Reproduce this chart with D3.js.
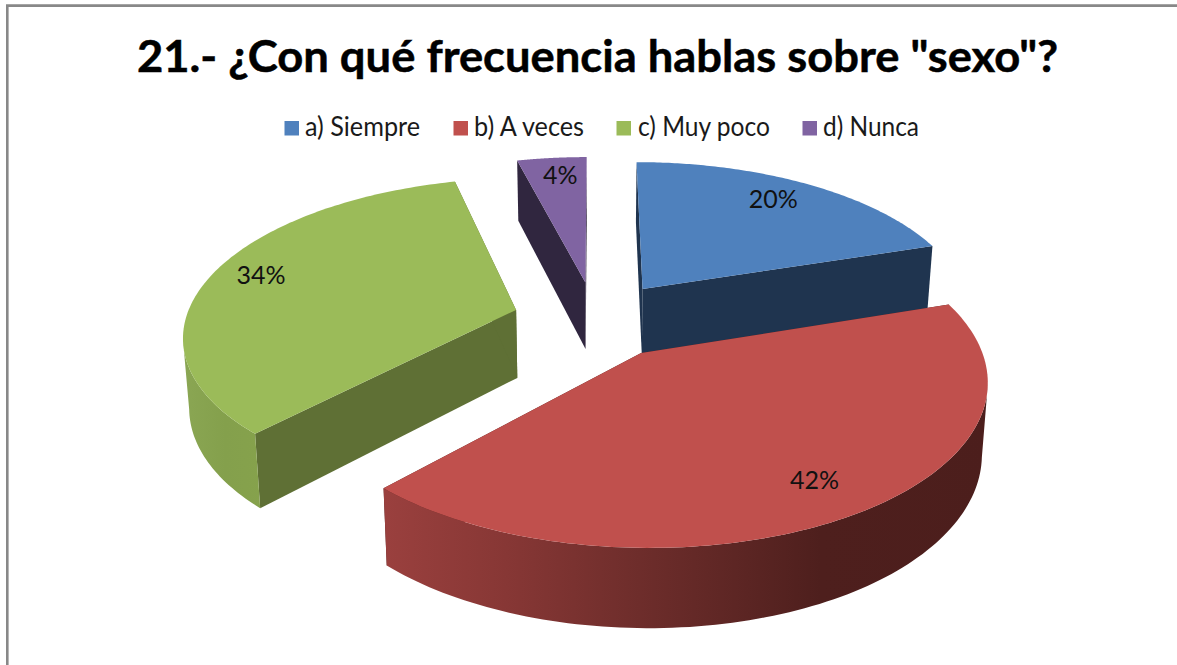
<!DOCTYPE html>
<html><head><meta charset="utf-8">
<style>html,body{margin:0;padding:0;background:#fff;overflow:hidden}svg{display:block}</style>
<script src="https://cdn.jsdelivr.net/npm/d3@7"></script></head>
<body><svg id="c" width="1177" height="665"></svg>
<script>
const titleText = '21.- ¿Con qué frecuencia hablas sobre "sexo"?';
const categories = ['a) Siempre','b) A veces','c) Muy poco','d) Nunca'];
const values = [20,42,34,4];
const topColors = ['#4f81bd','#c0504d','#9bbb59','#8064a2'];
const radialColors = ['#1f344f','#4e1f1d','#5f7035','#30263f'];
const legendSwatchX = [284.5,453.5,616.5,802.5];
const legendTextX = [305,474,638,823];
const legendTextW = [115,110,132,96];
const labelDx = [-6,0,-5,3];
const labelDy = [-1,0,-4,-2];

const W=1177,H=665;
const svg=d3.select('#c');
const defs=svg.append('defs');
const font='Lato, Carlito, sans-serif';

svg.append('rect').attr('width',W).attr('height',H).attr('fill','#fff');
svg.append('path').attr('d','M7.3,665V5.6H1177').attr('fill','none').attr('stroke','#888').attr('stroke-width',2.6);

svg.append('text').text(titleText).attr('x',137).attr('y',71.5)
  .attr('font-family',font).attr('font-weight',700).attr('font-size',44).attr('fill','#000')
  .attr('stroke','#000').attr('stroke-width',0.5)
  .attr('textLength',921).attr('lengthAdjust','spacingAndGlyphs');

categories.forEach((c,i)=>{
  svg.append('rect').attr('x',legendSwatchX[i]).attr('y',121).attr('width',14.5).attr('height',14.5).attr('fill',topColors[i]);
  svg.append('text').text(c).attr('x',legendTextX[i]).attr('y',136)
    .attr('font-family',font).attr('font-size',26).attr('fill','#1a1a1a')
    .attr('textLength',legendTextW[i]).attr('lengthAdjust','spacingAndGlyphs');
});

// Perspective projection of the pie plane
const K=0.15, EXPLODE=0.25, DEPTH=68.5, SHRINK=0.985;
const sx=d3.scaleLinear().domain([0,1]).range([595.4,925.9]);
const sy=d3.scaleLinear().domain([0,1]).range([319.4,473.8]);
const proj=(U,V)=>{const w=1-K*V;return [sx(U/w),sy(V/w)];};
const projB=(U,V)=>{const w=1-K*V;return [sx(SHRINK*U/w),sy(SHRINK*V/w)+DEPTH/w];};

const pie=d3.pie().sort(null).value(d=>d);
const arcs=pie(values).map((a,i)=>{
  const m=(a.startAngle+a.endAngle)/2;
  const ox=EXPLODE*Math.sin(m), oy=-EXPLODE*Math.cos(m);
  const on=(ang,r)=>[ox+r*Math.sin(ang),oy-r*Math.cos(ang)];
  return {...a,i,m,ox,oy,on};
});
const line=d3.line();
const sweep=(a)=>d3.range(0,121).map(t=>a.startAngle+(a.endAngle-a.startAngle)*t/120);

const gradRed=defs.append('linearGradient').attr('id','gr1').attr('gradientUnits','userSpaceOnUse')
  .attr('x1',385).attr('x2',990).attr('y1',0).attr('y2',0);
[[0,'#9a403e'],[0.2,'#873735'],[0.4,'#702e2c'],[0.6,'#5b2523'],[0.72,'#4e1f1d'],[1,'#4c1e1c']]
  .forEach(s=>gradRed.append('stop').attr('offset',s[0]).attr('stop-color',s[1]));
const gradGreen=defs.append('linearGradient').attr('id','gr2').attr('gradientUnits','userSpaceOnUse')
  .attr('x1',185).attr('x2',265).attr('y1',0).attr('y2',0);
[[0,'#8aa653'],[0.5,'#84a04c'],[1,'#86a24c']]
  .forEach(s=>gradGreen.append('stop').attr('offset',s[0]).attr('stop-color',s[1]));
const outerFill={1:'url(#gr1)',2:'url(#gr2)'};

const order=[3,0,2,1];
order.forEach(i=>{
  const a=arcs[i], g=svg.append('g');
  [a.startAngle,a.endAngle].forEach(ang=>{
    const e=a.on(ang,1);
    const poly=[proj(a.ox,a.oy),proj(e[0],e[1]),projB(e[0],e[1]),projB(a.ox,a.oy)];
    g.append('path').attr('d',line(poly)+'Z').attr('fill',radialColors[i]);
  });
  const angs=sweep(a);
  const pts=angs.map(t=>a.on(t,1));
  const vis=pts.filter((p,k)=>{
    const q=pts[Math.min(k+1,pts.length-1)], r=pts[Math.max(k-1,0)];
    return proj(q[0],q[1])[0]<proj(r[0],r[1])[0];
  });
  if(vis.length>1){
    const poly=vis.map(p=>proj(p[0],p[1])).concat(vis.slice().reverse().map(p=>projB(p[0],p[1])));
    g.append('path').attr('d',line(poly)+'Z').attr('fill',outerFill[i]||radialColors[i]);
  }
  const top=[proj(a.ox,a.oy)].concat(pts.map(p=>proj(p[0],p[1])));
  g.append('path').attr('d',line(top)+'Z').attr('fill',topColors[i]);
});

const total=d3.sum(values);
arcs.forEach(a=>{
  const p=a.on(a.m,0.82), c=proj(p[0],p[1]);
  svg.append('text').text(Math.round(a.value/total*100)+'%').attr('x',c[0]+labelDx[a.i]).attr('y',c[1]+8+labelDy[a.i])
    .attr('text-anchor','middle').attr('font-family',font).attr('font-size',25).attr('fill','#111');
});
</script></body></html>
